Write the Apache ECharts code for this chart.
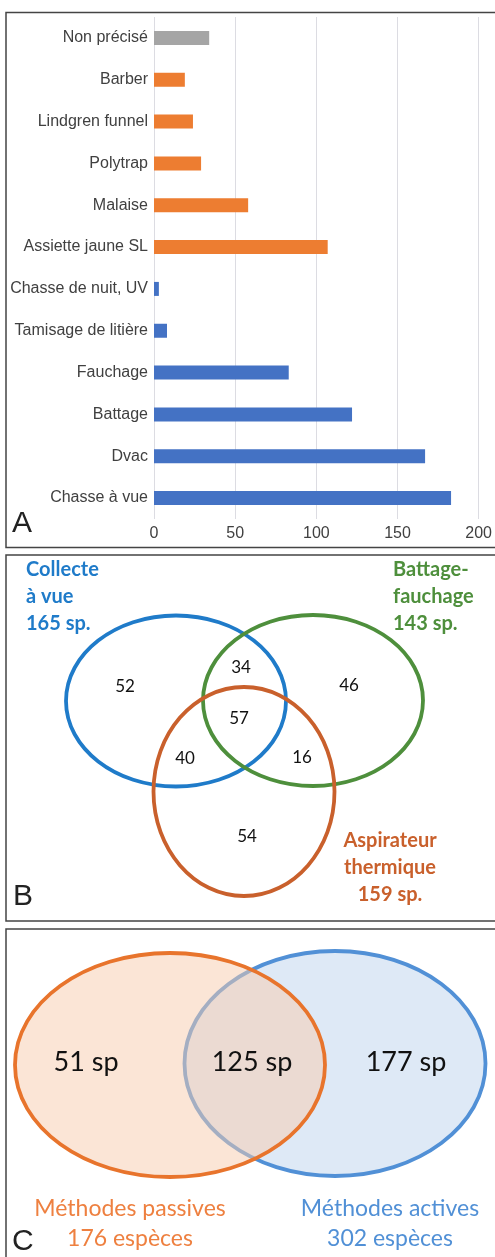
<!DOCTYPE html>
<html>
<head>
<meta charset="utf-8">
<script src="https://cdn.jsdelivr.net/npm/echarts@6/dist/echarts.min.js"></script>
<style>
  html, body { margin: 0; padding: 0; background: #fff; }
  #chart { width: 495px; height: 1257px; }
</style>
</head>
<body>
<div id="chart"></div>
<script>
  // A : nombre d'espèces par méthode
  const categories = ["Non précisé", "Barber", "Lindgren funnel", "Polytrap", "Malaise", "Assiette jaune SL",
    "Chasse de nuit, UV", "Tamisage de litière", "Fauchage", "Battage", "Dvac", "Chasse à vue"];
  const speciesCounts = [34, 19, 24, 29, 58, 107, 3, 8, 83, 122, 167, 183];
  const methodGroups = ["autre", "passive", "passive", "passive", "passive", "passive",
    "active", "active", "active", "active", "active", "active"];
  const xTicks = [0, 50, 100, 150, 200];

  // B : Venn des méthodes actives
  const vennBSets = ["Collecte\nà vue\n165 sp.", "Battage-\nfauchage\n143 sp.", "Aspirateur\nthermique\n159 sp."];
  const vennBRegions = ["A", "AB", "B", "ABC", "AC", "BC", "C"];
  const vennBCounts = [52, 34, 46, 57, 40, 16, 54];

  // C : passives vs actives
  const vennCSets = ["Méthodes passives\n176 espèces", "Méthodes actives\n302 espèces"];
  const vennCRegions = ["P", "PA", "A"];
  const vennCCounts = [51, 125, 177];

  // mise en page (pixels locaux de chaque panneau)
  const groupColors = { autre: "#a5a5a5", passive: "#ed7d31", active: "#4472c4" };
  const vennBShapes = [
    { cx: 176, cy: 151, rx: 110, ry: 85.5, stroke: "#1f7bc9" },
    { cx: 313, cy: 150.5, rx: 110, ry: 85.5, stroke: "#4e8f3c" },
    { cx: 244, cy: 241.5, rx: 90.5, ry: 104.5, stroke: "#c9602c" },
  ];
  const vennBPos = { A: [125, 137], AB: [241, 118], B: [349, 136], ABC: [239, 169], AC: [185, 209], BC: [302, 208], C: [247, 287] };
  const vennBLabelPos = [
    { x: 26, y: 6, align: "left", color: "#1f7bc9" },
    { x: 393, y: 6, align: "left", color: "#4e8f3c" },
    { x: 390, y: 277, align: "center", color: "#c9602c" },
  ];
  const vennCShapes = [
    { cx: 335, cy: 138.5, rx: 150.5, ry: 112.5, stroke: "#5190d6", fill: "#dee9f6" },
    { cx: 170, cy: 140, rx: 155, ry: 112, stroke: "#e8742c", fill: "rgba(248,203,173,0.5)" },
  ];
  const vennCPos = { P: [86, 137], PA: [252, 137], A: [406, 137] };
  const vennCLabelPos = [
    { x: 130, y: 269, color: "#ee8040" },
    { x: 390, y: 269, color: "#5190d6" },
  ];

  const chart = echarts.init(document.getElementById("chart"));

  function hiddenAxis(idx, max, inverse) {
    return { type: "value", gridIndex: idx, min: 0, max: max, inverse: inverse, show: false };
  }

  function ellipseItem(s, api) {
    const c = api.coord([s.cx, s.cy]);
    const size = api.size([s.rx, s.ry]);
    return {
      type: "ellipse",
      shape: { cx: c[0], cy: c[1], rx: size[0], ry: size[1] },
      style: { fill: s.fill || "none", stroke: s.stroke, lineWidth: 3.8 },
    };
  }

  chart.setOption({
    animation: false,
    grid: [
      { left: 154, top: 17, width: 330, height: 502 },
      { left: 0, top: 550, width: 495, height: 380 },
      { left: 0, top: 925, width: 495, height: 332 },
    ],
    xAxis: [
      {
        type: "value", gridIndex: 0, min: 0, max: 200, interval: 50,
        axisLine: { show: false }, axisTick: { show: false },
        splitLine: { lineStyle: { color: "#dcdce2", width: 1 } },
        axisLabel: {
          color: "#404040", fontSize: 16, fontFamily: "Liberation Sans", margin: 7,
          formatter: (v) => (xTicks.indexOf(v) >= 0 ? String(v) : ""),
        },
      },
      hiddenAxis(1, 495, false),
      hiddenAxis(2, 495, false),
    ],
    yAxis: [
      {
        type: "category", gridIndex: 0, data: categories, inverse: true,
        axisLine: { show: false }, axisTick: { show: false },
        axisLabel: { color: "#404040", fontSize: 16, fontFamily: "Liberation Sans", margin: 6 },
      },
      hiddenAxis(1, 380, true),
      hiddenAxis(2, 332, true),
    ],
    series: [
      {
        type: "bar", xAxisIndex: 0, yAxisIndex: 0, barWidth: 14,
        data: speciesCounts.map((v, i) => ({ value: v, itemStyle: { color: groupColors[methodGroups[i]] } })),
      },
      // B : ellipses
      {
        type: "custom", xAxisIndex: 1, yAxisIndex: 1, silent: true,
        data: vennBShapes.map((s, i) => [i]),
        renderItem: (params, api) => ellipseItem(vennBShapes[api.value(0)], api),
      },
      // B : effectifs
      {
        type: "custom", xAxisIndex: 1, yAxisIndex: 1, silent: true,
        data: vennBRegions.map((r, i) => [vennBPos[r][0], vennBPos[r][1], vennBCounts[i]]),
        renderItem: (params, api) => {
          const c = api.coord([api.value(0), api.value(1)]);
          return {
            type: "text", x: c[0], y: c[1],
            style: { text: String(api.value(2)), fill: "#111", font: "17px Lato", align: "center", verticalAlign: "middle" },
          };
        },
      },
      // B : noms des ensembles
      {
        type: "custom", xAxisIndex: 1, yAxisIndex: 1, silent: true,
        data: vennBSets.map((s, i) => [vennBLabelPos[i].x, vennBLabelPos[i].y, i]),
        renderItem: (params, api) => {
          const i = api.value(2);
          const c = api.coord([api.value(0), api.value(1)]);
          return {
            type: "text", x: c[0], y: c[1],
            style: {
              text: vennBSets[i], fill: vennBLabelPos[i].color, fontFamily: "Lato", fontWeight: "bold",
              fontSize: 20, lineHeight: 27, align: vennBLabelPos[i].align, verticalAlign: "top",
            },
          };
        },
      },
      // C : ellipses
      {
        type: "custom", xAxisIndex: 2, yAxisIndex: 2, silent: true,
        data: vennCShapes.map((s, i) => [i]),
        renderItem: (params, api) => ellipseItem(vennCShapes[api.value(0)], api),
      },
      // C : effectifs
      {
        type: "custom", xAxisIndex: 2, yAxisIndex: 2, silent: true,
        data: vennCRegions.map((r, i) => [vennCPos[r][0], vennCPos[r][1], vennCCounts[i]]),
        renderItem: (params, api) => {
          const c = api.coord([api.value(0), api.value(1)]);
          return {
            type: "text", x: c[0], y: c[1],
            style: { text: api.value(2) + " sp", fill: "#111", font: "27px Lato", align: "center", verticalAlign: "middle" },
          };
        },
      },
      // C : noms des ensembles
      {
        type: "custom", xAxisIndex: 2, yAxisIndex: 2, silent: true,
        data: vennCSets.map((s, i) => [vennCLabelPos[i].x, vennCLabelPos[i].y, i]),
        renderItem: (params, api) => {
          const i = api.value(2);
          const c = api.coord([api.value(0), api.value(1)]);
          return {
            type: "text", x: c[0], y: c[1],
            style: {
              text: vennCSets[i], fill: vennCLabelPos[i].color, fontFamily: "Lato",
              fontSize: 23, lineHeight: 30, align: "center", verticalAlign: "top",
            },
          };
        },
      },
    ],
    graphic: [
      { type: "rect", shape: { x: 6, y: 12.5, width: 500, height: 535 }, style: { fill: "none", stroke: "#444", lineWidth: 1.5 } },
      { type: "rect", shape: { x: 6, y: 555, width: 500, height: 366 }, style: { fill: "none", stroke: "#444", lineWidth: 1.5 } },
      { type: "rect", shape: { x: 6, y: 929, width: 500, height: 340 }, style: { fill: "none", stroke: "#444", lineWidth: 1.5 } },
      { type: "text", x: 12, y: 509, style: { text: "A", font: "30px Liberation Sans", fill: "#222" } },
      { type: "text", x: 13, y: 882, style: { text: "B", font: "30px Liberation Sans", fill: "#222" } },
      { type: "text", x: 12, y: 1227, style: { text: "C", font: "30px Liberation Sans", fill: "#222" } },
    ],
  });
</script>
</body>
</html>
